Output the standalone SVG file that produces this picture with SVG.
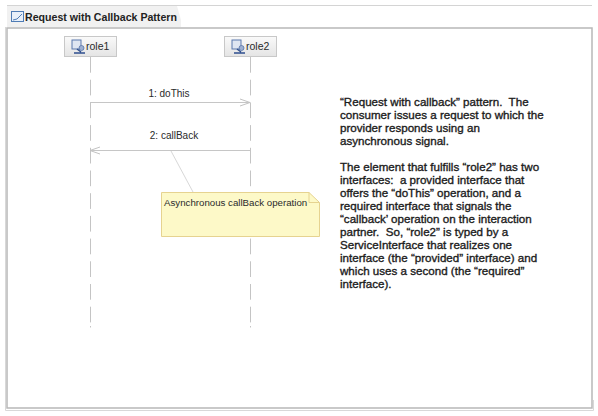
<svg xmlns="http://www.w3.org/2000/svg" width="598" height="416" viewBox="0 0 598 416">
<style>
.ui{font-family:"Liberation Sans",Arial,sans-serif;font-size:10px;fill:#2a2a2a}
.body{font-family:"Liberation Sans",Arial,sans-serif;font-size:11.600px;fill:#1c1c1c;stroke:#1c1c1c;stroke-width:.35;white-space:pre}
.life{fill:none;stroke:#c4c4c4;stroke-width:1;stroke-dasharray:15.700 7}
.msg{fill:none;stroke:#c6c6c6;stroke-width:1.200}
</style>
<defs>
<linearGradient id="hd" x1="0" y1="0" x2="0" y2="1"><stop offset="0" stop-color="#fafafa"/><stop offset="1" stop-color="#e4e4e4"/></linearGradient>
<g id="roleicon"><rect x="0" y="0" width="9" height="9" fill="#dfe6f2" stroke="#5b79ad" stroke-width="1"/><path d="M5 9l4 3M2 13h11" stroke="#2f4f8f" stroke-width="1.500" fill="none"/><circle cx="9.500" cy="8" r="2.500" fill="#9db0d3" stroke="#4a6aa0" stroke-width=".7"/></g>
<marker id="open" viewBox="0 0 10 10" refX="10" refY="5" markerWidth="10" markerHeight="10" orient="auto" markerUnits="userSpaceOnUse"><path d="M0 1.500L10 5L0 8.500" fill="none" stroke="#c2c2c2" stroke-width="1"/></marker>
</defs>
<rect width="598" height="416" fill="#fff"/>
<g id="frame">
<path d="M7 5.500H592" fill="none" stroke="#d4d4d4" stroke-width="1"/>
<path d="M7 6H177L181 20V27H7Z" fill="#f1f1f1"/>
<path d="M7 408V28H592V408Z" fill="#fff" stroke="#b8b8b8" stroke-width="1.500"/>
<path d="M5.500 27V410.500H593.500V400" fill="none" stroke="#d8d8d8"/>
<rect x="11.500" y="11.500" width="12" height="10" fill="#e8f0fa" stroke="#4f7cb5"/>
<path d="M13 20l4-1 5-5" fill="none" stroke="#4f7cb5"/>
<text x="25" y="21" font-family="Liberation Sans,Arial,sans-serif" font-size="10.600" font-weight="bold" fill="#222">Request with Callback Pattern</text>
</g>
<g id="connectors">
<path class="life" d="M90.500 57V323M90.500 326V327.500"/>
<path class="life" d="M250.500 57V323M250.500 326V327.500"/>
<path class="msg" d="M90 102.500H250" marker-end="url(#open)"/>
<path class="msg" d="M250 150.500H90" marker-end="url(#open)"/>
<path d="M171 151L193 192" fill="none" stroke="#d8d8d8" stroke-width="1"/>
</g>
<g id="role1">
<rect x="64.500" y="36.500" width="52" height="20" fill="url(#hd)" stroke="#c8c8c8"/>
<use href="#roleicon" x="72" y="40"/>
<text class="ui" x="86" y="50" style="font-size:10.500px">role1</text>
</g>
<g id="role2">
<rect x="224.500" y="36.500" width="52" height="20" fill="url(#hd)" stroke="#c8c8c8"/>
<use href="#roleicon" x="232" y="40"/>
<text class="ui" x="246" y="50" style="font-size:10.500px">role2</text>
</g>
<text class="ui" x="169" y="97" text-anchor="middle">1: doThis</text>
<text class="ui" x="174" y="139" text-anchor="middle">2: callBack</text>
<g id="note">
<path d="M161.500 192.500H309L319.500 202.500V236.500H161.500Z" fill="#fdf9c8" stroke="#e6d390" stroke-width="1"/>
<path d="M309 192.500V202.500H319.500" fill="none" stroke="#e6d390"/>
<text class="ui" x="164" y="206" style="font-size:9.700px">Asynchronous callBack operation</text>
</g>
<g id="description">
<text class="body" x="340" y="106">“Request with callback” pattern.  The</text>
<text class="body" x="340" y="119">consumer issues a request to which the</text>
<text class="body" x="340" y="132">provider responds using an</text>
<text class="body" x="340" y="145">asynchronous signal.</text>
<text class="body" x="340" y="171">The element that fulfills “role2” has two</text>
<text class="body" x="340" y="184">interfaces:  a provided interface that</text>
<text class="body" x="340" y="197">offers the “doThis” operation, and a</text>
<text class="body" x="340" y="210">required interface that signals the</text>
<text class="body" x="340" y="223">“callback’ operation on the interaction</text>
<text class="body" x="340" y="236">partner.  So, “role2” is typed by a</text>
<text class="body" x="340" y="249">ServiceInterface that realizes one</text>
<text class="body" x="340" y="262">interface (the “provided” interface) and</text>
<text class="body" x="340" y="275">which uses a second (the “required”</text>
<text class="body" x="340" y="288">interface).</text>
</g>
</svg>
